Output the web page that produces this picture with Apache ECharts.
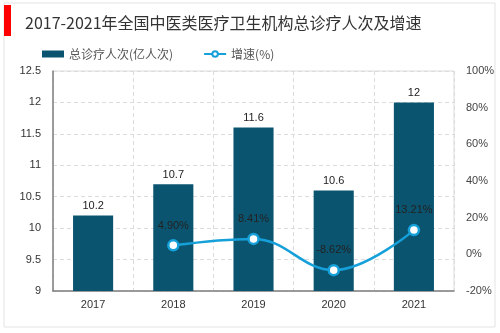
<!DOCTYPE html>
<html>
<head>
<meta charset="utf-8">
<script src="https://cdn.jsdelivr.net/npm/echarts@6/dist/echarts.min.js"></script>
<style>
  html, body { margin: 0; padding: 0; background: #fff; }
  #chart { width: 500px; height: 333px; }
</style>
</head>
<body>
<div id="chart"></div>
<script>
// 2017-2021 national TCM institutions: total visits (100 million) and growth rate
const years = ['2017', '2018', '2019', '2020', '2021'];
const visits = [10.2, 10.7, 11.6, 10.6, 12];
const growth = [null, 4.90, 8.41, -8.62, 13.21];

const titleText = '2017-2021年全国中医类医疗卫生机构总诊疗人次及增速';
const barName = '总诊疗人次(亿人次)';
const lineName = '增速(%)';

const latin = '"Liberation Sans", Arial, sans-serif';
const cjk = '"Noto Sans CJK SC", "Liberation Sans", sans-serif';

const chart = echarts.init(document.getElementById('chart'), null, { renderer: 'canvas' });

chart.setOption({
  animation: false,
  backgroundColor: '#fff',
  graphic: [
    {
      type: 'rect',
      shape: { x: 4, y: 3, width: 491, height: 324 },
      style: { fill: 'none', stroke: '#e3e3e3', lineWidth: 1 },
      silent: true
    },
    {
      type: 'rect',
      shape: { x: 4, y: 5, width: 7, height: 31 },
      style: { fill: '#ff0000' },
      silent: true
    }
  ],
  title: {
    text: titleText,
    left: 20,
    top: 10,
    textStyle: { fontFamily: cjk, fontSize: 16, fontWeight: 'normal', color: '#333' }
  },
  legend: {
    left: 37,
    top: 43,
    itemWidth: 22,
    itemHeight: 7,
    itemGap: 30,
    textStyle: { fontFamily: cjk, fontSize: 12, color: '#555' },
    data: [
      { name: barName, icon: 'rect' },
      { name: lineName }
    ]
  },
  grid: {
    left: 53,
    right: 46,
    top: 71,
    bottom: 42,
    show: true,
    borderColor: '#dcdcdc',
    borderWidth: 1
  },
  xAxis: {
    type: 'category',
    data: years,
    boundaryGap: true,
    axisLine: { onZero: false, lineStyle: { color: '#808080', width: 1.5 } },
    axisTick: { show: false },
    axisLabel: { fontFamily: latin, fontSize: 11, color: '#333', margin: 8 },
    splitLine: { show: true, lineStyle: { color: '#dcdcdc', type: [4, 3] } }
  },
  yAxis: [
    {
      type: 'value',
      min: 9,
      max: 12.5,
      interval: 0.5,
      axisLine: { show: true, onZero: false, lineStyle: { color: '#808080', width: 1.5 } },
      axisTick: { show: false },
      axisLabel: { fontFamily: latin, fontSize: 11, color: '#333', margin: 12 },
      splitLine: { show: true, lineStyle: { color: '#dcdcdc', type: [4, 3] } }
    },
    {
      type: 'value',
      min: -20,
      max: 100,
      interval: 20,
      axisLine: { show: false },
      axisTick: { show: false },
      axisLabel: { fontFamily: latin, fontSize: 11, color: '#444', margin: 12, formatter: '{value}%' },
      splitLine: { show: false }
    }
  ],
  series: [
    {
      name: barName,
      type: 'bar',
      data: visits,
      barWidth: '50%',
      itemStyle: { color: '#0b5470' },
      label: {
        show: true,
        position: 'top',
        distance: 4,
        fontFamily: latin,
        fontSize: 11,
        color: '#222'
      }
    },
    {
      name: lineName,
      type: 'line',
      yAxisIndex: 1,
      data: growth,
      smooth: 0.4,
      symbol: 'circle',
      symbolSize: 10,
      lineStyle: { color: '#16a0d9', width: 2.5 },
      itemStyle: { color: '#ffffff', borderColor: '#16a0d9', borderWidth: 2.5 },
      label: {
        show: true,
        position: 'top',
        distance: 8,
        fontFamily: latin,
        fontSize: 11,
        color: '#222',
        formatter: p => p.value.toFixed(2) + '%'
      },
      z: 5
    }
  ]
});
</script>
</body>
</html>
